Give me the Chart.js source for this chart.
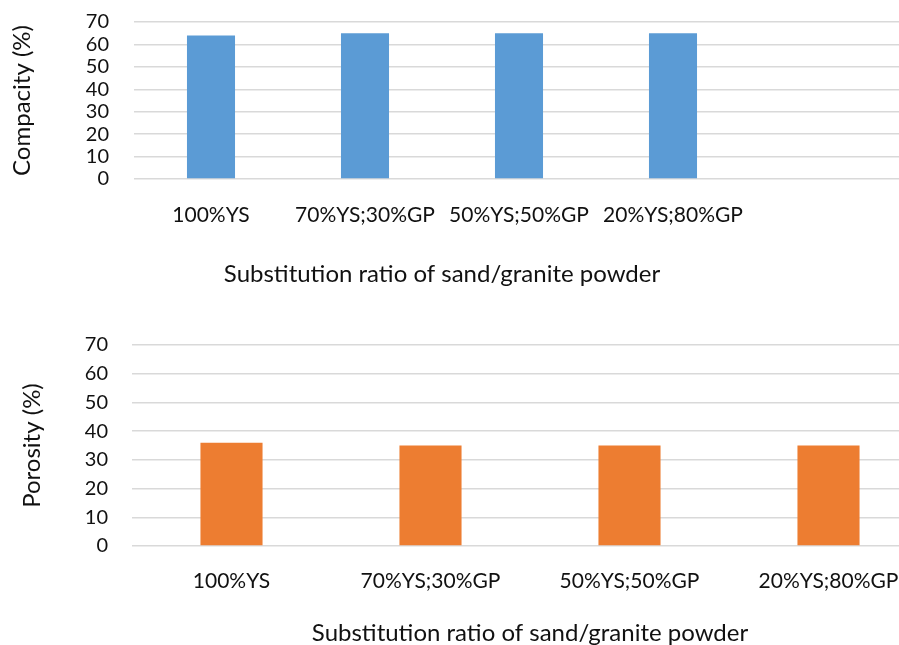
<!DOCTYPE html>
<html>
<head>
<meta charset="utf-8">
<script src="https://cdn.jsdelivr.net/npm/chart.js@4.4.1/dist/chart.umd.min.js"></script>
<style>
  html, body { margin: 0; padding: 0; background: #fff; overflow: hidden; width: 899px; height: 645px; }
  .box { position: absolute; left: 0; }
  #boxTop { top: 0; width: 899px; height: 300px; }
  #boxBottom { top: 320px; width: 940px; height: 328px; }
</style>
</head>
<body>
<div class="box" id="boxTop"><canvas id="compacity"></canvas></div>
<div class="box" id="boxBottom"><canvas id="porosity"></canvas></div>
<script>
// Mix designs (share of yellow sand / granite powder)
const categories = ['100%YS', '70%YS;30%GP', '50%YS;50%GP', '20%YS;80%GP'];
const compacityValues = [64, 65, 65, 65];
const porosityValues = [36, 35, 35, 35];
const yTicks = [0, 10, 20, 30, 40, 50, 60, 70];
const xTitle = 'Substitution ratio of sand/granite powder';

const FONT = 'Lato, "Liberation Sans", sans-serif';
const GRID = '#d9d9d9';
const GRID_W = 1.5;
const TEXT = '#111111';

// Continues the horizontal grid lines past the plot area to the canvas edge
const gridExtender = {
  id: 'gridExtender',
  beforeDatasetsDraw(chart, args, opts) {
    if (!opts.enabled) return;
    const y = chart.scales.y;
    const ctx = chart.ctx;
    const half = GRID_W / 2;
    ctx.save();
    ctx.strokeStyle = GRID;
    ctx.lineWidth = GRID_W;
    y.ticks.forEach(t => {
      const py = Math.round(y.getPixelForValue(t.value) - half) + half;
      ctx.beginPath();
      ctx.moveTo(chart.chartArea.right, py);
      ctx.lineTo(chart.width, py);
      ctx.stroke();
    });
    ctx.restore();
  }
};

function makeChart(id, cfg) {
  return new Chart(document.getElementById(id), {
    type: 'bar',
    data: {
      labels: categories,
      datasets: [{
        data: cfg.values,
        backgroundColor: cfg.color,
        borderWidth: 0,
        barPercentage: 0.312,
        categoryPercentage: 1.0
      }]
    },
    options: {
      responsive: true,
      maintainAspectRatio: false,
      animation: false,
      layout: { padding: cfg.padding },
      plugins: {
        legend: { display: false },
        tooltip: { enabled: false },
        gridExtender: { enabled: cfg.extend }
      },
      scales: {
        x: {
          grid: { display: false, drawTicks: false },
          border: { display: false },
          ticks: {
            color: TEXT,
            font: { family: FONT, size: cfg.catSize },
            padding: cfg.xTickPad,
            maxRotation: 0,
            autoSkip: false
          },
          title: {
            display: true,
            text: xTitle,
            color: TEXT,
            font: { family: FONT, size: cfg.titleSize },
            padding: { top: 0, bottom: cfg.xTitlePad }
          },
          afterFit(scale) {
            scale.height = cfg.xHeight;
            scale.paddingLeft = 0;
            scale.paddingRight = 0;
          }
        },
        y: {
          min: 0,
          max: 70,
          afterBuildTicks(scale) { scale.ticks = yTicks.map(v => ({ value: v })); },
          grid: { color: GRID, lineWidth: GRID_W, drawTicks: false },
          border: { display: false },
          ticks: {
            color: TEXT,
            font: { family: FONT, size: cfg.tickSize },
            padding: cfg.yTickPad,
            autoSkip: false
          },
          title: {
            display: true,
            text: cfg.yTitle,
            color: TEXT,
            font: { family: FONT, size: cfg.titleSize },
            padding: { top: cfg.yTitlePad, bottom: 0 }
          },
          afterFit(scale) {
            scale.width = cfg.yWidth;
            scale.paddingTop = 0;
            scale.paddingBottom = 0;
          }
        }
      }
    },
    plugins: [gridExtender]
  });
}

makeChart('compacity', {
  values: compacityValues,
  color: '#5b9bd5',
  yTitle: 'Compacity (%)',
  padding: { top: 22, right: 149, bottom: 0, left: 0 },
  extend: true,
  catSize: 21, tickSize: 20, titleSize: 24,
  xTickPad: 24, xTitlePad: 11, xHeight: 121,
  yTickPad: 25, yTitlePad: 8, yWidth: 134
});

makeChart('porosity', {
  values: porosityValues,
  color: '#ed7d31',
  yTitle: 'Porosity (%)',
  padding: { top: 25, right: 12, bottom: 0, left: 0 },
  extend: false,
  catSize: 21, tickSize: 20, titleSize: 24,
  xTickPad: 23, xTitlePad: 0, xHeight: 102,
  yTickPad: 24, yTitlePad: 18, yWidth: 132
});
</script>
</body>
</html>
